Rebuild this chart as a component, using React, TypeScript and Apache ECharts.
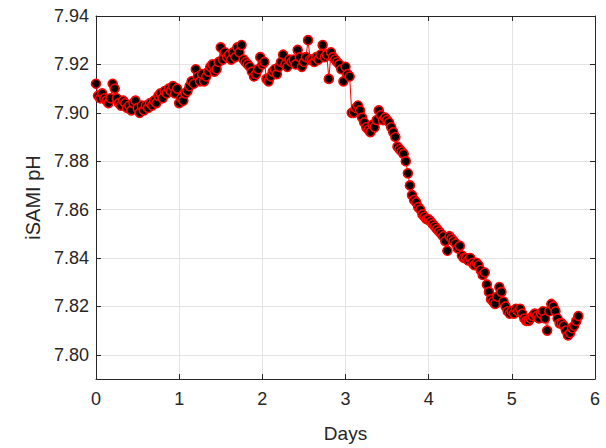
import React, { useEffect, useRef } from "react";
import * as echarts from "echarts";

const days = [
  0, 0.025, 0.05, 0.075, 0.1, 0.125, 0.15, 0.175, 0.2, 0.225, 0.25, 0.275,
  0.3, 0.325, 0.35, 0.375, 0.4, 0.425, 0.45, 0.475, 0.5, 0.525, 0.55, 0.575,
  0.6, 0.625, 0.65, 0.675, 0.7, 0.725, 0.75, 0.775, 0.8, 0.825, 0.85, 0.875,
  0.9, 0.925, 0.95, 0.975, 1.0, 1.025, 1.05, 1.075, 1.1, 1.125, 1.15, 1.175,
  1.2, 1.225, 1.25, 1.275, 1.3, 1.325, 1.35, 1.375, 1.4, 1.425, 1.45, 1.475,
  1.5, 1.525, 1.55, 1.575, 1.6, 1.625, 1.65, 1.675, 1.7, 1.725, 1.75, 1.775,
  1.8, 1.825, 1.85, 1.875, 1.9, 1.925, 1.95, 1.975, 2.0, 2.025, 2.05, 2.075,
  2.1, 2.125, 2.15, 2.175, 2.2, 2.225, 2.25, 2.275, 2.3, 2.325, 2.35, 2.375,
  2.4, 2.425, 2.45, 2.475, 2.5, 2.525, 2.55, 2.575, 2.6, 2.625, 2.65, 2.675,
  2.7, 2.725, 2.75, 2.775, 2.8, 2.825, 2.85, 2.875, 2.9, 2.925, 2.95, 2.975,
  3.0, 3.025, 3.05, 3.075, 3.1, 3.125, 3.15, 3.175, 3.2, 3.225, 3.25, 3.275,
  3.3, 3.325, 3.35, 3.375, 3.4, 3.425, 3.45, 3.475, 3.5, 3.525, 3.55, 3.575,
  3.6, 3.625, 3.65, 3.675, 3.7, 3.725, 3.75, 3.775, 3.8, 3.825, 3.85, 3.875,
  3.9, 3.925, 3.95, 3.975, 4.0, 4.025, 4.05, 4.075, 4.1, 4.125, 4.15, 4.175,
  4.2, 4.225, 4.25, 4.275, 4.3, 4.325, 4.35, 4.375, 4.4, 4.425, 4.45, 4.475,
  4.5, 4.525, 4.55, 4.575, 4.6, 4.625, 4.65, 4.675, 4.7, 4.725, 4.75, 4.775,
  4.8, 4.825, 4.85, 4.875, 4.9, 4.925, 4.95, 4.975, 5.0, 5.025, 5.05, 5.075,
  5.1, 5.125, 5.15, 5.175, 5.2, 5.225, 5.25, 5.275, 5.3, 5.325, 5.35, 5.375,
  5.4, 5.425, 5.45, 5.475, 5.5, 5.525, 5.55, 5.575, 5.6, 5.625, 5.65, 5.675,
  5.7, 5.725, 5.75, 5.775, 5.8,
];

const pH = [
  7.912, 7.907, 7.906, 7.908, 7.906, 7.905, 7.904, 7.906, 7.912, 7.91, 7.906, 7.904,
  7.903, 7.905, 7.904, 7.902, 7.903, 7.901, 7.904, 7.905, 7.902, 7.9, 7.903, 7.901,
  7.903, 7.902, 7.904, 7.903, 7.905, 7.904, 7.907, 7.908, 7.906, 7.909, 7.908, 7.91,
  7.909, 7.911, 7.908, 7.91, 7.904, 7.906, 7.905, 7.908, 7.909, 7.911, 7.913, 7.912,
  7.918, 7.915, 7.913, 7.916, 7.913, 7.915, 7.917, 7.919, 7.92, 7.917, 7.918, 7.921,
  7.927, 7.922, 7.925, 7.923, 7.924, 7.922, 7.925, 7.923, 7.927, 7.925, 7.928, 7.922,
  7.921, 7.92, 7.919, 7.917, 7.915, 7.916, 7.918, 7.923, 7.92, 7.921, 7.914, 7.913,
  7.915, 7.917, 7.918, 7.916, 7.919, 7.921, 7.924, 7.92, 7.919, 7.922, 7.921, 7.922,
  7.92, 7.926, 7.923, 7.919, 7.921, 7.923, 7.93, 7.922, 7.922, 7.921, 7.923, 7.922,
  7.924, 7.928, 7.923, 7.924, 7.914, 7.925, 7.923, 7.922, 7.921, 7.92, 7.918, 7.913,
  7.919, 7.916, 7.915, 7.9, 7.9, 7.902, 7.903, 7.901, 7.898, 7.896, 7.894, 7.893,
  7.892, 7.895, 7.894, 7.897, 7.901, 7.899, 7.897, 7.898, 7.897, 7.896, 7.894, 7.892,
  7.89, 7.886, 7.885, 7.884, 7.883, 7.88, 7.875, 7.87, 7.866, 7.864, 7.863, 7.861,
  7.86, 7.858, 7.857, 7.856, 7.856, 7.855, 7.854, 7.853, 7.852, 7.851, 7.85, 7.849,
  7.847, 7.843, 7.849, 7.848, 7.847, 7.846, 7.844, 7.845, 7.841, 7.84, 7.84, 7.839,
  7.84, 7.838, 7.837, 7.838, 7.837, 7.835, 7.833, 7.834, 7.829, 7.826, 7.823, 7.822,
  7.821, 7.824, 7.828, 7.826, 7.822, 7.82, 7.818, 7.817, 7.818, 7.817, 7.819, 7.818,
  7.819, 7.817, 7.815, 7.814, 7.814, 7.815, 7.816, 7.817, 7.816, 7.815, 7.817, 7.818,
  7.815, 7.81, 7.818, 7.821, 7.82, 7.818, 7.815, 7.813, 7.813, 7.812, 7.81, 7.808,
  7.809, 7.811, 7.812, 7.814, 7.816,
];

const yTicks = [7.8, 7.82, 7.84, 7.86, 7.88, 7.9, 7.92, 7.94];

const FONT = "'Liberation Sans', Arial, Helvetica, sans-serif";
const AXIS_COLOR = "#262626";
const GRID_COLOR = "#e3e3e3";

export default function App() {
  const ref = useRef<HTMLDivElement>(null);

  useEffect(() => {
    if (!ref.current) return;
    const chart = echarts.init(ref.current, null, { renderer: "svg" });
    const data = days.map((d, i) => [d, pH[i]]);
    const xCommon = {
      type: "value" as const,
      min: 0,
      max: 6,
      interval: 1,
      axisLine: { show: true, onZero: false, lineStyle: { color: AXIS_COLOR, width: 1 } },
      axisTick: { show: true, inside: true, length: 5, lineStyle: { color: AXIS_COLOR } },
    };
    const yCommon = {
      type: "value" as const,
      min: 7.79,
      max: 7.94,
      axisLine: { show: true, onZero: false, lineStyle: { color: AXIS_COLOR, width: 1 } },
      axisTick: {
        show: true,
        inside: true,
        length: 5,
        customValues: yTicks,
        lineStyle: { color: AXIS_COLOR },
      },
    };
    chart.setOption({
      animation: false,
      backgroundColor: "#ffffff",
      grid: { left: 96, right: 11, top: 16, bottom: 65, containLabel: false },
      xAxis: [
        {
          ...xCommon,
          position: "bottom",
          name: "Days",
          nameLocation: "middle",
          nameGap: 45,
          nameTextStyle: { fontFamily: FONT, fontSize: 19, color: AXIS_COLOR },
          axisLabel: { fontFamily: FONT, fontSize: 18, color: AXIS_COLOR, margin: 11 },
          splitLine: { show: true, lineStyle: { color: GRID_COLOR, width: 1 } },
        },
        {
          ...xCommon,
          position: "top",
          axisLabel: { show: false },
          splitLine: { show: false },
        },
      ],
      yAxis: [
        {
          ...yCommon,
          position: "left",
          name: "iSAMI pH",
          nameLocation: "middle",
          nameGap: 44,
          nameTextStyle: { fontFamily: FONT, fontSize: 20, color: AXIS_COLOR },
          axisLabel: {
            fontFamily: FONT,
            fontSize: 18,
            color: AXIS_COLOR,
            margin: 7,
            customValues: yTicks,
            formatter: (v: number) => v.toFixed(2),
          },
          splitLine: { show: true, lineStyle: { color: GRID_COLOR, width: 1 } },
        },
        {
          ...yCommon,
          position: "right",
          axisLabel: { show: false },
          splitLine: { show: false },
        },
      ],
      series: [
        {
          type: "line",
          xAxisIndex: 0,
          yAxisIndex: 0,
          data,
          symbol: "circle",
          symbolSize: 9,
          showAllSymbol: true,
          itemStyle: { color: "#000000", borderColor: "#ff0000", borderWidth: 1.6 },
          lineStyle: { color: "#ff0000", width: 1 },
          emphasis: { disabled: true },
        },
      ],
    });
    return () => chart.dispose();
  }, []);

  return (
    <div
      ref={ref}
      style={{ position: "fixed", left: 0, top: 0, width: 606, height: 448 }}
    />
  );
}
